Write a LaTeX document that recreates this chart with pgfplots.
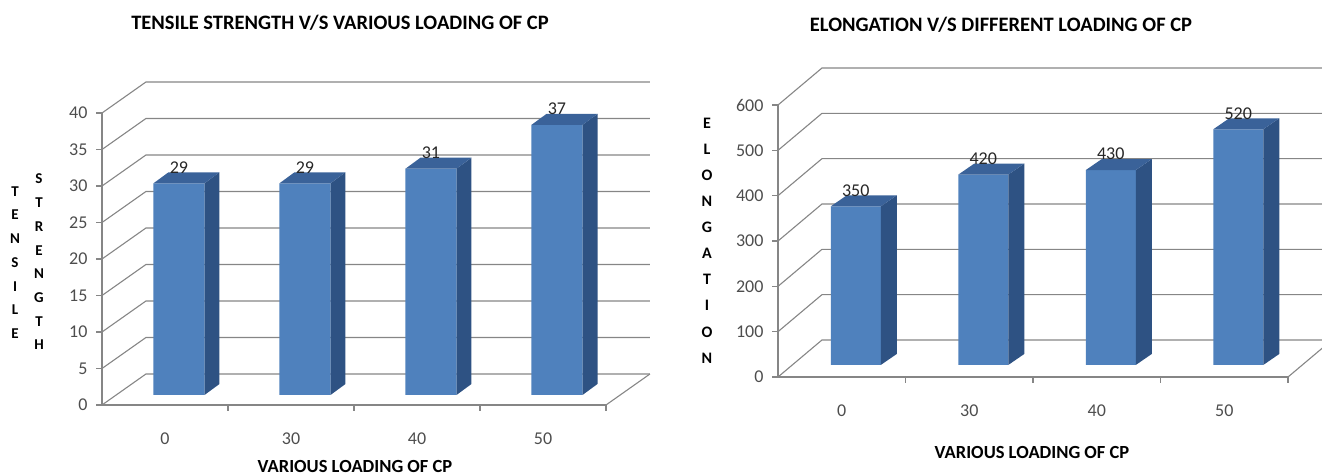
\documentclass[border=0pt]{standalone}
\usepackage{fontspec}
\setmainfont{Carlito}
\usepackage{pgfplots}
\usepackage{pgfplotstable}
\pgfplotsset{compat=1.18}
\definecolor{barfront}{HTML}{4F81BD}
\definecolor{barside}{HTML}{2E5283}
\definecolor{bartop}{HTML}{3A6299}
\definecolor{gridgray}{HTML}{868686}
\definecolor{labgray}{HTML}{4D4D4D}
\definecolor{datalab}{HTML}{262626}

\pgfplotstableread{
x v
0 29
1 29
2 31
3 37
}\tensile
\pgfplotstableread{
x v
0 350
1 420
2 430
3 520
}\elong

% side and top faces of a 3-D bar: #1 index, #2 value, #3 half width, #4 depth dx, #5 depth dy
\newcommand\barfaces[5]{%
  \pgfmathsetmacro\xa{#1+#3}%
  \pgfmathsetmacro\xb{#1+#3+#4}%
  \pgfmathsetmacro\xc{#1-#3}%
  \pgfmathsetmacro\xd{#1-#3+#4}%
  \pgfmathsetmacro\yt{#2+#5}%
  \edef\doit{%
    \noexpand\addplot[fill=barside, draw=none, forget plot] coordinates {(\xa,0) (\xb,#5) (\xb,\yt) (\xa,#2)} -- cycle;
    \noexpand\addplot[fill=bartop, draw=none, forget plot] coordinates {(\xc,#2) (\xa,#2) (\xb,\yt) (\xd,\yt)} -- cycle;}%
  \doit}

% wall grid line: #1 front x, #2 front y, #3 back x, #4 back y, #5 back right x
\newcommand\wallline[5]{%
  \edef\doit{\noexpand\draw[gridgray, line width=1.1pt] (axis cs:#1,#2) -- (axis cs:#3,#4) -- (axis cs:#5,#4);}%
  \doit}

\pgfplotsset{chart3d/.style={
  clip=false, enlargelimits=false,
  axis x line=bottom, axis y line=left,
  axis line style={-, draw=gridgray, line width=1.1pt},
  tick align=outside, major tick length=6pt,
  tick style={draw=gridgray, line width=1.1pt},
  ticklabel style={font=\fontsize{18}{20}\selectfont, text=labgray},
  yticklabel style={xshift=-5pt},
  /pgf/number format/assume math mode=true,
  xticklabels={0,30,40,50},
  every node near coord/.append style={font=\fontsize{18}{20}\selectfont, text=datalab, anchor=center, yshift=16pt},
}}

\begin{document}
\begin{tikzpicture}
\useasboundingbox (0pt,0pt) rectangle (1322pt,476pt);

% ---------- left chart ----------
\node[font=\fontsize{20.5}{24}\selectfont\bfseries] at (340pt,453pt) {TENSILE STRENGTH V/S VARIOUS LOADING OF CP};
\node[font=\fontsize{15}{23.7}\selectfont\bfseries, align=center] at (15pt,213.5pt) {T\\E\\N\\S\\I\\L\\E};
\node[font=\fontsize{15}{23.7}\selectfont\bfseries, align=center] at (39pt,214pt) {S\\T\\R\\E\\N\\G\\T\\H};
\node[font=\fontsize{18.5}{22}\selectfont\bfseries] at (355pt,9pt) {VARIOUS LOADING OF CP};

\begin{axis}[chart3d, at={(102pt,71pt)}, anchor=south west,
  x=126pt, y=7.3pt,
  xmin=-0.611, xmax=3.389, ymin=-1.37, ymax=38.63,
  xtick={0.389,1.389,2.389,3.389}, xticklabel style={xshift=-63pt, yshift=-18pt},
  ytick={-1.37,3.63,8.63,13.63,18.63,23.63,28.63,33.63,38.63},
  yticklabels={0,5,10,15,20,25,30,35,40}]
  \pgfplotsinvokeforeach{0,5,...,40}{%
    \pgfmathsetmacro\ya{#1-1.37}\pgfmathsetmacro\yb{#1+2.88}%
    \wallline{-0.611}{\ya}{-0.262}{\yb}{3.738}}
  \draw[gridgray, line width=1.1pt] (axis cs:3.389,-1.37) -- (axis cs:3.738,2.88);
  \addplot[ybar, bar width=0.405, bar shift=0pt, fill=barfront, draw=none, nodes near coords] table[x=x, y=v] {\tensile};
  \pgfplotsinvokeforeach{0,1,2,3}{%
    \pgfplotstablegetelem{#1}{v}\of{\tensile}\edef\val{\pgfplotsretval}%
    \barfaces{#1}{\val}{0.2025}{0.119}{1.507}}
\end{axis}

% ---------- right chart ----------
\node[font=\fontsize{20.5}{24}\selectfont\bfseries] at (1001pt,451pt) {ELONGATION V/S DIFFERENT LOADING OF CP};
\node[font=\fontsize{16}{26.1}\selectfont\bfseries, align=center] at (707pt,235.5pt) {E\\L\\O\\N\\G\\A\\T\\I\\O\\N};
\node[font=\fontsize{18.5}{22}\selectfont\bfseries] at (1032pt,23pt) {VARIOUS LOADING OF CP};

\begin{axis}[chart3d, at={(778pt,99pt)}, anchor=south west,
  x=127.5pt, y=0.4533pt,
  xmin=-0.61, xmax=3.39, ymin=-26.5, ymax=573.5,
  xtick={0.39,1.39,2.39,3.39}, xticklabel style={xshift=-63.75pt, yshift=-18pt},
  ytick={-26.5,73.5,173.5,273.5,373.5,473.5,573.5},
  yticklabels={0,100,200,300,400,500,600}]
  \pgfplotsinvokeforeach{0,100,...,600}{%
    \pgfmathsetmacro\ya{#1-26.5}\pgfmathsetmacro\yb{#1+55.2}%
    \wallline{-0.61}{\ya}{-0.265}{\yb}{3.735}}
  \draw[gridgray, line width=1.1pt] (axis cs:3.39,-26.5) -- (axis cs:3.735,55.2);
  \addplot[ybar, bar width=0.392, bar shift=0pt, fill=barfront, draw=none, nodes near coords] table[x=x, y=v] {\elong};
  \pgfplotsinvokeforeach{0,1,2,3}{%
    \pgfplotstablegetelem{#1}{v}\of{\elong}\edef\val{\pgfplotsretval}%
    \barfaces{#1}{\val}{0.196}{0.1255}{24.3}}
\end{axis}
\end{tikzpicture}
\end{document}
